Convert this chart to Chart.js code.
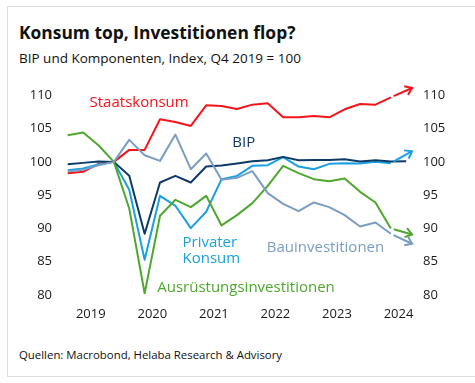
<!DOCTYPE html>
<html>
<head>
<meta charset="utf-8">
<script src="https://cdn.jsdelivr.net/npm/chart.js@4"></script>
<style>
  html, body { margin: 0; padding: 0; background: #fff; }
  body { width: 475px; height: 383px; position: relative; overflow: hidden; font-family: "Open Sans", "Noto Sans", sans-serif; color: #111; }
  #frame { position: absolute; left: 7px; top: 6px; width: 480px; height: 369px; border: 1px solid #dedede; border-right: none; }
  #title { position: absolute; left: 19px; top: 22px; font-size: 17.4px; line-height: 21px; font-weight: 700; white-space: nowrap; }
  #subtitle { position: absolute; left: 19px; top: 50px; font-size: 13.5px; line-height: 17px; white-space: nowrap; }
  #footer { position: absolute; left: 19px; top: 347px; font-size: 11.4px; line-height: 16px; white-space: nowrap; }
  canvas { position: absolute; left: 0; top: 0; }
</style>
</head>
<body>
<div id="frame"></div>
<div id="title">Konsum top, Investitionen flop?</div>
<div id="subtitle">BIP und Komponenten, Index, Q4 2019 = 100</div>
<div id="footer">Quellen: Macrobond, Helaba Research &amp; Advisory</div>
<canvas id="c" width="475" height="383"></canvas>
<script>
// ---- data ----
const quarters = ['2019Q1','2019Q2','2019Q3','2019Q4','2020Q1','2020Q2','2020Q3','2020Q4',
  '2021Q1','2021Q2','2021Q3','2021Q4','2022Q1','2022Q2','2022Q3','2022Q4',
  '2023Q1','2023Q2','2023Q3','2023Q4','2024Q1','2024Q2','2024Q3'];
const staatskonsum = [98.3, 98.5, 99.7, 100, 101.8, 101.8, 106.4, 106.0, 105.4, 108.5, 108.4, 107.95,
  108.6, 108.8, 106.7, 106.7, 106.9, 106.7, 107.9, 108.7, 108.6, 109.7];
const bip = [99.66, 99.85, 100.05, 100, 97.9, 89.2, 96.9, 97.9, 96.9, 99.3, 99.45, 99.75,
  100.1, 100.25, 100.75, 100.25, 100.3, 100.3, 100.4, 100.05, 100.25, 100.05, 100.1];
const privaterKonsum = [98.76, 99.0, 99.6, 100, 95.8, 85.3, 94.9, 93.4, 90.05, 92.5, 97.4, 97.9,
  99.4, 99.5, 100.7, 99.3, 98.9, 99.7, 99.8, 99.75, 100.0, 99.8];
const bauinvestitionen = [98.55, 98.8, 99.5, 100, 103.3, 101.0, 100.15, 104.1, 98.9, 101.25, 97.3, 97.6,
  98.6, 95.3, 93.7, 92.6, 93.9, 93.2, 92.0, 90.3, 90.9, 89.2];
const ausruestungsinvestitionen = [104.0, 104.4, 102.5, 100, 93.0, 80.25, 91.9, 94.3, 93.2, 94.9, 90.45, 92.0,
  93.8, 96.4, 99.4, 98.3, 97.4, 97.1, 97.5, 95.5, 93.9, 90.0];
// trend arrows: end point (date, value)
const arrowEndDate = 2024.72;
const arrowStaat = 111.1;
const arrowPrivat = 101.6;
const arrowBau = 87.7;
const arrowAusr = 89.1;
const xTickLabels = ['2019','2020','2021','2022','2023','2024'];
const yTicks = [80, 85, 90, 95, 100, 105, 110];

// ---- helpers ----
function qDate(q) { const y = parseInt(q.slice(0, 4)); const n = parseInt(q.slice(5)); return y + (n - 0.5) / 4; }
function pts(vals) { return vals.map((v, i) => ({ x: qDate(quarters[i]), y: v })); }

const C = {
  staat: '#f5141b',
  bip: '#0d3a66',
  privat: '#19a0e3',
  bau: '#7b9dc1',
  ausr: '#4ea72e'
};

const series = [
  { label: 'Bauinvestitionen', data: bauinvestitionen, color: C.bau, arrow: arrowBau },
  { label: 'Ausrüstungsinvestitionen', data: ausruestungsinvestitionen, color: C.ausr, arrow: arrowAusr },
  { label: 'BIP', data: bip, color: C.bip, arrow: null },
  { label: 'Privater Konsum', data: privaterKonsum, color: C.privat, arrow: arrowPrivat },
  { label: 'Staatskonsum', data: staatskonsum, color: C.staat, arrow: arrowStaat }
];

// in-chart labels, anchored in data coordinates (left edge, vertical middle)
const textLabels = [
  { lines: ['Staatskonsum'], x: 2019.48, y: 108.95, color: C.staat },
  { lines: ['BIP'], x: 2021.80, y: 102.95, color: C.bip },
  { lines: ['Privater', 'Konsum'], x: 2020.99, y: 87.9, color: C.privat },
  { lines: ['Bauinvestitionen'], x: 2022.36, y: 87.15, color: C.bau },
  { lines: ['Ausrüstungsinvestitionen'], x: 2020.58, y: 81.1, color: C.ausr }
];

const overlay = {
  id: 'overlay',
  afterDatasetsDraw(chart) {
    const ctx = chart.ctx, xs = chart.scales.x, ys = chart.scales.y;
    ctx.save();
    // arrows
    series.forEach(s => {
      if (s.arrow == null) return;
      const li = s.data.length - 1;
      const x0 = xs.getPixelForValue(qDate(quarters[li])), y0 = ys.getPixelForValue(s.data[li]);
      const x1 = xs.getPixelForValue(arrowEndDate), y1 = ys.getPixelForValue(s.arrow);
      const ang = Math.atan2(y1 - y0, x1 - x0);
      const gap = 3;
      ctx.strokeStyle = s.color; ctx.lineWidth = 2; ctx.lineCap = 'butt'; ctx.lineJoin = 'miter';
      ctx.beginPath();
      ctx.moveTo(x0 + gap * Math.cos(ang), y0 + gap * Math.sin(ang));
      ctx.lineTo(x1, y1);
      ctx.stroke();
      const L = 8, w = 0.62;
      ctx.beginPath();
      ctx.moveTo(x1 - L * Math.cos(ang - w), y1 - L * Math.sin(ang - w));
      ctx.lineTo(x1, y1);
      ctx.lineTo(x1 - L * Math.cos(ang + w), y1 - L * Math.sin(ang + w));
      ctx.stroke();
    });
    // labels
    ctx.font = '15px "Open Sans", "Noto Sans", sans-serif';
    ctx.textAlign = 'left'; ctx.textBaseline = 'middle';
    textLabels.forEach(t => {
      ctx.fillStyle = t.color;
      const px = xs.getPixelForValue(t.x), py = ys.getPixelForValue(t.y);
      t.lines.forEach((ln, i) => ctx.fillText(ln, px, py + i * 16.6));
    });
    ctx.restore();
  }
};

const tickFont = { family: '"Open Sans", "Noto Sans", sans-serif', size: 13 };

new Chart(document.getElementById('c'), {
  type: 'line',
  data: {
    datasets: series.map(s => ({
      label: s.label,
      data: pts(s.data),
      borderColor: s.color,
      borderWidth: 2,
      pointRadius: 0,
      tension: 0,
      fill: false,
      borderJoinStyle: 'round',
      clip: false
    }))
  },
  options: {
    responsive: false,
    devicePixelRatio: 1,
    animation: false,
    layout: { padding: { top: 82, bottom: 58, left: 0, right: 0 } },
    plugins: { legend: { display: false }, tooltip: { enabled: false } },
    scales: {
      x: {
        type: 'linear', min: 2019, max: 2024.8,
        grid: { display: false, drawTicks: false }, border: { display: false },
        afterBuildTicks: sc => { sc.ticks = xTickLabels.map(l => ({ value: parseInt(l) + 0.5 })); },
        afterFit: sc => { sc.height = 30; },
        ticks: { padding: 11, color: '#1a1a1a', font: tickFont, maxRotation: 0, autoSkip: false,
          callback: (v, i) => xTickLabels[i] }
      },
      y: {
        position: 'left', min: 80, max: 112,
        grid: { display: false, drawTicks: false }, border: { display: false },
        afterBuildTicks: sc => { sc.ticks = yTicks.map(v => ({ value: v })); },
        afterFit: sc => { sc.width = 60; },
        ticks: { padding: 8, color: '#1a1a1a', font: tickFont, callback: v => String(v) }
      },
      y2: {
        position: 'right', min: 80, max: 112,
        grid: { display: false, drawTicks: false }, border: { display: false },
        afterBuildTicks: sc => { sc.ticks = yTicks.map(v => ({ value: v })); },
        afterFit: sc => { sc.width = 58; },
        ticks: { padding: 6, color: '#1a1a1a', font: tickFont, callback: v => String(v) }
      }
    }
  },
  plugins: [overlay]
});
</script>
</body>
</html>
